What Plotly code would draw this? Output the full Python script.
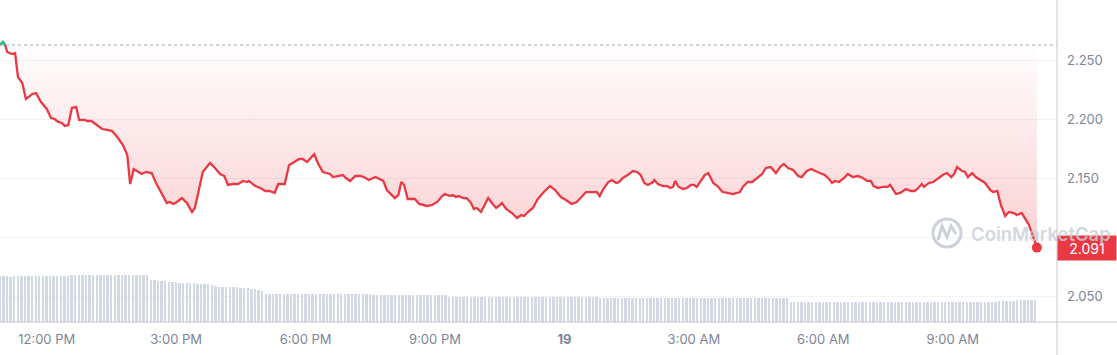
import datetime as dt
import plotly.graph_objects as go

# ---------------- data ----------------
start_time = dt.datetime(2025, 1, 18, 10, 55)

# minutes after start_time for each price reading
minutes = [
    0, 4, 7, 10, 17, 21, 25, 31, 36, 45, 50, 57, 65, 71, 76, 81, 86, 90, 95, 100,
    106, 110, 118, 121, 127, 135, 142, 149, 156, 163, 171, 177, 181, 186, 197, 203, 211, 217, 225, 232,
    236, 241, 246, 253, 260, 267, 271, 277, 282, 292, 299, 306, 312, 317, 324, 331, 338, 344, 346, 355,
    362, 369, 375, 382, 387, 396, 402, 407, 416, 421, 427, 437, 442, 449, 455, 459, 463, 470, 477, 481,
    487, 494, 501, 506, 513, 522, 533, 538, 549, 554, 558, 562, 567, 577, 583, 594, 601, 608, 615, 619,
    626, 630, 634, 638, 644, 649, 655, 659, 663, 669, 673, 679, 684, 690, 695, 698, 704, 712, 719, 725,
    729, 734, 741, 748, 755, 765, 772, 780, 787, 795, 802, 809, 815, 823, 830, 834, 839, 846, 851, 857,
    861, 866, 873, 880, 886, 891, 896, 901, 908, 910, 915, 922, 928, 932, 936, 939, 944, 950, 955, 961,
    965, 969, 975, 980, 985, 992, 999, 1005, 1012, 1019, 1025, 1029, 1033, 1040, 1046, 1053, 1060, 1065, 1072, 1079,
    1085, 1090, 1096, 1103, 1110, 1115, 1122, 1128, 1133, 1140, 1147, 1153, 1157, 1161, 1167, 1174, 1179, 1186, 1193, 1200,
    1206, 1211, 1215, 1221, 1228, 1234, 1238, 1242, 1246, 1252, 1260, 1267, 1272, 1277, 1282, 1285, 1292, 1298, 1304, 1311,
    1317, 1323, 1327, 1331, 1338, 1342, 1346, 1352, 1357, 1363, 1370, 1377, 1381, 1387, 1392, 1398, 1403, 1410, 1414, 1421,
    1425, 1431, 1437, 1442,
]

prices = [
    2.2627, 2.2653, 2.2627, 2.2568, 2.2551, 2.2559, 2.2356, 2.2305, 2.2169, 2.2212, 2.2220, 2.2144, 2.2085, 2.2008, 2.2000, 2.1975, 2.1966, 2.1941, 2.1949, 2.2093,
    2.2102, 2.1992, 2.1992, 2.1983, 2.1983, 2.1949, 2.1915, 2.1907, 2.1898, 2.1847, 2.1780, 2.1695, 2.1449, 2.1576, 2.1534, 2.1551, 2.1542, 2.1458, 2.1373, 2.1288,
    2.1297, 2.1280, 2.1297, 2.1330, 2.1288, 2.1212, 2.1246, 2.1424, 2.1551, 2.1627, 2.1585, 2.1534, 2.1517, 2.1441, 2.1449, 2.1449, 2.1475, 2.1466, 2.1475, 2.1432,
    2.1415, 2.1390, 2.1390, 2.1373, 2.1449, 2.1449, 2.1610, 2.1627, 2.1661, 2.1661, 2.1636, 2.1703, 2.1627, 2.1551, 2.1542, 2.1534, 2.1508, 2.1517, 2.1525, 2.1500,
    2.1475, 2.1517, 2.1517, 2.1508, 2.1483, 2.1508, 2.1475, 2.1398, 2.1330, 2.1356, 2.1466, 2.1441, 2.1322, 2.1322, 2.1280, 2.1263, 2.1271, 2.1297, 2.1347, 2.1364,
    2.1347, 2.1356, 2.1339, 2.1347, 2.1330, 2.1330, 2.1288, 2.1237, 2.1246, 2.1212, 2.1263, 2.1330, 2.1288, 2.1246, 2.1271, 2.1288, 2.1237, 2.1203, 2.1161, 2.1186,
    2.1178, 2.1212, 2.1246, 2.1322, 2.1373, 2.1432, 2.1398, 2.1339, 2.1314, 2.1280, 2.1297, 2.1339, 2.1381, 2.1381, 2.1381, 2.1347, 2.1407, 2.1466, 2.1483, 2.1458,
    2.1466, 2.1500, 2.1525, 2.1559, 2.1551, 2.1525, 2.1458, 2.1441, 2.1466, 2.1483, 2.1449, 2.1432, 2.1432, 2.1415, 2.1424, 2.1475, 2.1424, 2.1407, 2.1415, 2.1441,
    2.1441, 2.1424, 2.1475, 2.1525, 2.1542, 2.1458, 2.1424, 2.1381, 2.1373, 2.1364, 2.1373, 2.1381, 2.1424, 2.1466, 2.1466, 2.1500, 2.1534, 2.1585, 2.1593, 2.1542,
    2.1593, 2.1619, 2.1585, 2.1568, 2.1517, 2.1508, 2.1559, 2.1576, 2.1559, 2.1542, 2.1525, 2.1492, 2.1458, 2.1475, 2.1466, 2.1500, 2.1534, 2.1508, 2.1517, 2.1500,
    2.1475, 2.1475, 2.1432, 2.1415, 2.1424, 2.1424, 2.1441, 2.1407, 2.1364, 2.1373, 2.1407, 2.1390, 2.1390, 2.1415, 2.1449, 2.1424, 2.1458, 2.1466, 2.1492, 2.1525,
    2.1542, 2.1508, 2.1534, 2.1593, 2.1559, 2.1551, 2.1508, 2.1542, 2.1508, 2.1483, 2.1458, 2.1398, 2.1381, 2.1390, 2.1271, 2.1178, 2.1212, 2.1203, 2.1186, 2.1203,
    2.1161, 2.1102, 2.1000, 2.0910,
]

# 24h volume bars, one per 5 minutes (billions USD)
volumes = [
    4.6, 4.6, 4.6, 4.5, 4.6, 4.6, 4.6, 4.6, 4.6, 4.6, 4.6, 4.6, 4.6, 4.6, 4.6, 4.6, 4.6, 4.6, 4.6, 4.6,
    4.7, 4.7, 4.7, 4.7, 4.7, 4.7, 4.7, 4.7, 4.7, 4.7, 4.7, 4.7, 4.7, 4.7, 4.7, 4.7, 4.7, 4.7, 4.7, 4.7, 4.7, 4.7,
    4.2, 4.2, 4.1, 4.1, 4.1, 4.0, 4.0, 4.0, 3.9,
    3.9, 3.9, 3.9, 3.9, 3.8, 3.8, 3.8, 3.8, 3.7, 3.6,
    3.5, 3.5, 3.5, 3.5, 3.5, 3.5, 3.4, 3.4, 3.4, 3.3, 3.3, 3.2, 3.1,
    2.8, 2.8, 2.8, 2.8, 2.8, 2.8, 2.8, 2.8, 2.8, 2.8, 2.8, 2.8, 2.8, 2.8, 2.8, 2.8, 2.8, 2.8, 2.8, 2.8,
    2.8, 2.8, 2.8, 2.8, 2.8, 2.8, 2.8, 2.8, 2.8, 2.8, 2.7, 2.7, 2.7, 2.7, 2.7, 2.7, 2.7, 2.7, 2.7, 2.7,
    2.7, 2.7, 2.7, 2.7, 2.7, 2.7, 2.7, 2.7, 2.7, 2.7, 2.7,
    2.5, 2.5, 2.5, 2.5, 2.5, 2.5, 2.5, 2.5, 2.5, 2.5, 2.5, 2.5, 2.5, 2.5, 2.5, 2.5, 2.5, 2.5, 2.5, 2.5,
    2.5, 2.5, 2.5, 2.5, 2.5, 2.5, 2.5, 2.5, 2.5, 2.5, 2.5, 2.5, 2.5, 2.5, 2.5, 2.5, 2.5, 2.5, 2.5, 2.5, 2.5, 2.5,
    2.4, 2.4, 2.4, 2.4, 2.4, 2.4, 2.4, 2.4, 2.4, 2.4, 2.4, 2.4, 2.4, 2.4, 2.4, 2.4, 2.4, 2.4, 2.4, 2.4,
    2.4, 2.4, 2.4, 2.4, 2.4, 2.4, 2.4, 2.4, 2.4, 2.4, 2.4, 2.4, 2.4, 2.4, 2.4, 2.4, 2.4, 2.4, 2.4, 2.4,
    2.4, 2.4, 2.4, 2.4, 2.4, 2.4, 2.4, 2.4, 2.4, 2.4, 2.4, 2.4, 2.4,
    2.0, 2.0, 2.0, 2.0, 2.0, 2.0, 2.0, 2.0, 2.0, 2.0, 2.0, 2.0, 2.0, 2.0, 2.0, 2.0, 2.0, 2.0, 2.0, 2.0,
    2.0, 2.0, 2.0, 2.0, 2.0, 2.0, 2.0, 2.0, 2.0, 2.0, 2.0, 2.0, 2.0, 2.0, 2.0, 2.0, 2.0, 2.0, 2.0, 2.0,
    2.0, 2.0, 2.0, 2.0, 2.0, 2.0, 2.0, 2.0, 2.0, 2.0, 2.0, 2.0, 2.0, 2.0, 2.0, 2.0, 2.0, 2.0,
    2.1, 2.1, 2.1, 2.1, 2.1, 2.2, 2.2, 2.2, 2.2, 2.2, 2.2,
]
volume_step_minutes = 5

tick_times = ["2025-01-18 12:00", "2025-01-18 15:00", "2025-01-18 18:00", "2025-01-18 21:00",
              "2025-01-19 00:00", "2025-01-19 03:00", "2025-01-19 06:00", "2025-01-19 09:00"]
tick_labels = ["12:00 PM", "3:00 PM", "6:00 PM", "9:00 PM", "<b>19</b>", "3:00 AM", "6:00 AM", "9:00 AM"]
price_ticks = [2.05, 2.10, 2.15, 2.20, 2.25]
price_tick_labels = ["2.050", "", "2.150", "2.200", "2.250"]

# ---------------- build ----------------
RED = "#ea3943"
GREEN = "#16c784"
TXT = "#7c8598"

times = [start_time + dt.timedelta(minutes=m) for m in minutes]
vol_times = [start_time + dt.timedelta(minutes=volume_step_minutes * i) for i in range(len(volumes))]
base = prices[0]
n_up = next(i for i, p in enumerate(prices) if p < base)

W, H = 1117, 355
ML, MR, MT, MB = 0, 60, 0, 33
PW, PH = W - ML - MR, H - MT - MB

fig = go.Figure()

fig.add_trace(go.Bar(
    x=vol_times, y=volumes, yaxis="y2",
    marker=dict(color="#d3d9e4", line=dict(width=0)),
    width=2.6 * 60 * 1000, hoverinfo="skip",
))

fig.add_trace(go.Scatter(
    x=[times[0], times[-1]], y=[base, base], mode="lines",
    line=dict(width=0, color="rgba(0,0,0,0)"), hoverinfo="skip",
))

fig.add_trace(go.Scatter(
    x=times, y=prices, mode="lines",
    line=dict(color=RED, width=2.3),
    fill="tonexty",
    fillgradient=dict(
        type="vertical",
        colorscale=[[0, "rgba(234,57,67,0.24)"], [0.85, "rgba(234,57,67,0.04)"], [1, "rgba(234,57,67,0.0)"]],
    ),
))

fig.add_trace(go.Scatter(
    x=times[:n_up], y=prices[:n_up], mode="lines",
    line=dict(color=GREEN, width=2.3), hoverinfo="skip",
))

fig.add_trace(go.Scatter(
    x=[times[-1]], y=[prices[-1]], mode="markers",
    marker=dict(color=RED, size=10), hoverinfo="skip",
))

x_end = start_time + dt.timedelta(minutes=1470)

fig.update_layout(
    width=W, height=H,
    margin=dict(l=ML, r=MR, t=MT, b=MB),
    paper_bgcolor="white", plot_bgcolor="white",
    showlegend=False,
    font=dict(family="Inter, 'Open Sans', sans-serif", color=TXT, size=13),
    xaxis=dict(
        type="date", range=[start_time, x_end],
        tickvals=tick_times, ticktext=tick_labels,
        showgrid=False, zeroline=False, showline=False, ticks="",
        tickfont=dict(size=13, color=TXT), ticklabelstandoff=8,
    ),
    yaxis=dict(
        side="right", range=[2.02797, 2.30085],
        tickvals=price_ticks, ticktext=price_tick_labels,
        showgrid=True, gridcolor="#f1f2f4", gridwidth=1,
        zeroline=False, showline=False, ticks="",
        tickfont=dict(size=13, color=TXT), ticklabelstandoff=9,
    ),
    yaxis2=dict(overlaying="y", range=[0, PH / 10], visible=False, fixedrange=True),
    bargap=0,
)

shapes = [
    dict(type="line", xref="paper", yref="y", x0=0, x1=1, y0=base, y1=base,
         line=dict(color="#a3a8b0", width=1, dash="dot")),
    dict(type="line", xref="paper", yref="paper", x0=1, x1=1, y0=-MB / PH, y1=1,
         line=dict(color="#c3c6cc", width=1)),
    dict(type="line", xref="paper", yref="paper", x0=0, x1=W / PW, y0=0, y1=0,
         line=dict(color="#c3c6cc", width=1)),
    # watermark logo
    dict(type="circle", xref="paper", yref="paper",
         x0=933 / PW, x1=961 / PW, y0=(PH - 247) / PH, y1=(PH - 219) / PH,
         line=dict(color="rgba(190,196,208,0.8)", width=3)),
    dict(type="path", xref="paper", yref="paper",
         path="M {:.4f},{:.4f} L {:.4f},{:.4f} L {:.4f},{:.4f} L {:.4f},{:.4f} L {:.4f},{:.4f}".format(
             938 / PW, (PH - 240) / PH, 942 / PW, (PH - 226) / PH, 947 / PW, (PH - 237) / PH,
             951 / PW, (PH - 226) / PH, 956 / PW, (PH - 234) / PH),
         line=dict(color="rgba(190,196,208,0.8)", width=3)),
]
fig.update_layout(shapes=shapes)

fig.add_annotation(
    xref="paper", yref="y", x=1, y=prices[-1], xanchor="left", yanchor="middle",
    text=f"{prices[-1]:.3f}", showarrow=False,
    font=dict(color="white", size=14, family="Inter, sans-serif"),
    bgcolor=RED, width=56, height=22, align="center", borderpad=1,
)
fig.add_annotation(
    xref="paper", yref="paper", x=969 / PW, y=(PH - 234) / PH, xanchor="left", yanchor="middle",
    text="CoinMarketCap", showarrow=False,
    font=dict(color="rgba(200,205,215,0.8)", size=18.5, family="Inter, sans-serif", weight=600),
)

fig.write_html("out.html")
